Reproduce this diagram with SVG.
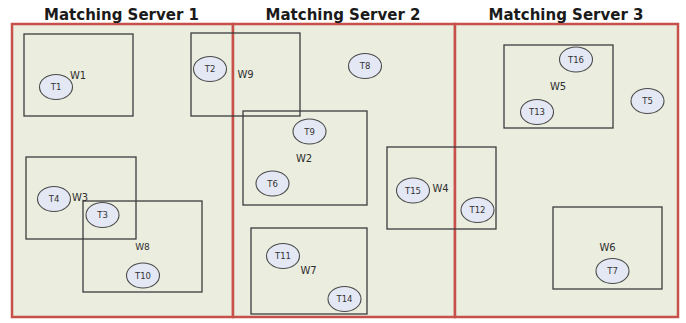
<svg xmlns="http://www.w3.org/2000/svg" width="686" height="323" viewBox="0 0 686 323">
  <style>
    .title { font-family: "DejaVu Sans", sans-serif; font-weight: bold; font-size: 15px; fill: #1a1a1a; text-anchor: middle; }
    .server { fill: #EBEDDF; stroke: #C8504A; stroke-width: 2.5; }
    .win { fill: none; stroke: #3c3c3c; stroke-width: 1.3; }
    .wlabel { font-family: "DejaVu Sans", sans-serif; font-size: 10px; fill: #2e2e2e; text-anchor: middle; }
    .task { fill: #E3E8F4; stroke: #4a4a4a; stroke-width: 1.1; }
    .tlabel { font-family: "DejaVu Sans", sans-serif; font-size: 8.5px; fill: #333; text-anchor: middle; }
  </style>
  <rect width="686" height="323" fill="#ffffff"/>

  <!-- matching servers -->
  <g id="server1">
    <rect class="server" x="12" y="24" width="221" height="293"/>
    <text class="title" x="121.5" y="20">Matching Server 1</text>
  </g>
  <g id="server2">
    <rect class="server" x="233" y="24" width="222" height="293"/>
    <text class="title" x="343" y="20">Matching Server 2</text>
  </g>
  <g id="server3">
    <rect class="server" x="455" y="24" width="223" height="293"/>
    <text class="title" x="566" y="20">Matching Server 3</text>
  </g>

  <!-- windows -->
  <g id="W1"><rect class="win" x="24" y="34" width="109" height="82"/><text class="wlabel" x="78" y="78.5">W1</text></g>
  <g id="W9"><rect class="win" x="191" y="33" width="109" height="83"/><text class="wlabel" x="245.5" y="77.5">W9</text></g>
  <g id="W3"><rect class="win" x="26" y="157" width="110" height="82"/><text class="wlabel" x="80" y="201">W3</text></g>
  <g id="W8"><rect class="win" x="83" y="201" width="119" height="91"/><text class="wlabel" x="142.5" y="249.5" style="font-size:9px">W8</text></g>
  <g id="W2"><rect class="win" x="243" y="111" width="124" height="94"/><text class="wlabel" x="304" y="161.5">W2</text></g>
  <g id="W7"><rect class="win" x="251" y="228" width="116" height="86"/><text class="wlabel" x="308.5" y="274">W7</text></g>
  <g id="W4"><rect class="win" x="387" y="147" width="109" height="82"/><text class="wlabel" x="440.5" y="191.5">W4</text></g>
  <g id="W5"><rect class="win" x="504" y="45" width="109" height="83"/><text class="wlabel" x="558" y="89.5">W5</text></g>
  <g id="W6"><rect class="win" x="553" y="207" width="109" height="82"/><text class="wlabel" x="607.5" y="251">W6</text></g>

  <!-- tasks -->
  <g id="T1"><ellipse class="task" cx="56" cy="87" rx="16.5" ry="12.5"/><text class="tlabel" x="56" y="90">T1</text></g>
  <g id="T2"><ellipse class="task" cx="210" cy="69" rx="16.5" ry="12.5"/><text class="tlabel" x="210" y="72">T2</text></g>
  <g id="T4"><ellipse class="task" cx="54" cy="199" rx="16.5" ry="12.5"/><text class="tlabel" x="54" y="202">T4</text></g>
  <g id="T3"><ellipse class="task" cx="102.5" cy="215" rx="16.5" ry="12.5"/><text class="tlabel" x="102.5" y="218">T3</text></g>
  <g id="T10"><ellipse class="task" cx="143" cy="275.5" rx="16.5" ry="12.5"/><text class="tlabel" x="143" y="278.5">T10</text></g>
  <g id="T8"><ellipse class="task" cx="365" cy="66" rx="16.5" ry="12.5"/><text class="tlabel" x="365" y="69">T8</text></g>
  <g id="T9"><ellipse class="task" cx="309.5" cy="131.5" rx="16.5" ry="12.5"/><text class="tlabel" x="309.5" y="134.5">T9</text></g>
  <g id="T6"><ellipse class="task" cx="272.5" cy="183.5" rx="16.5" ry="12.5"/><text class="tlabel" x="272.5" y="186.5">T6</text></g>
  <g id="T15"><ellipse class="task" cx="413" cy="190.5" rx="16.5" ry="12.5"/><text class="tlabel" x="413" y="193.5">T15</text></g>
  <g id="T11"><ellipse class="task" cx="283" cy="256" rx="16.5" ry="12.5"/><text class="tlabel" x="283" y="259">T11</text></g>
  <g id="T14"><ellipse class="task" cx="344.5" cy="299" rx="16.5" ry="12.5"/><text class="tlabel" x="344.5" y="302">T14</text></g>
  <g id="T12"><ellipse class="task" cx="477.5" cy="210" rx="16.5" ry="12.5"/><text class="tlabel" x="477.5" y="213">T12</text></g>
  <g id="T7"><ellipse class="task" cx="612.5" cy="271" rx="16.5" ry="12.5"/><text class="tlabel" x="612.5" y="274">T7</text></g>
  <g id="T16"><ellipse class="task" cx="576" cy="59.5" rx="16.5" ry="12.5"/><text class="tlabel" x="576" y="62.5">T16</text></g>
  <g id="T13"><ellipse class="task" cx="537" cy="112" rx="16.5" ry="12.5"/><text class="tlabel" x="537" y="115">T13</text></g>
  <g id="T5"><ellipse class="task" cx="647.5" cy="101" rx="16.5" ry="12.5"/><text class="tlabel" x="647.5" y="104">T5</text></g>

  <!-- no connectors in this diagram -->
  <g id="connectors"/>
</svg>
